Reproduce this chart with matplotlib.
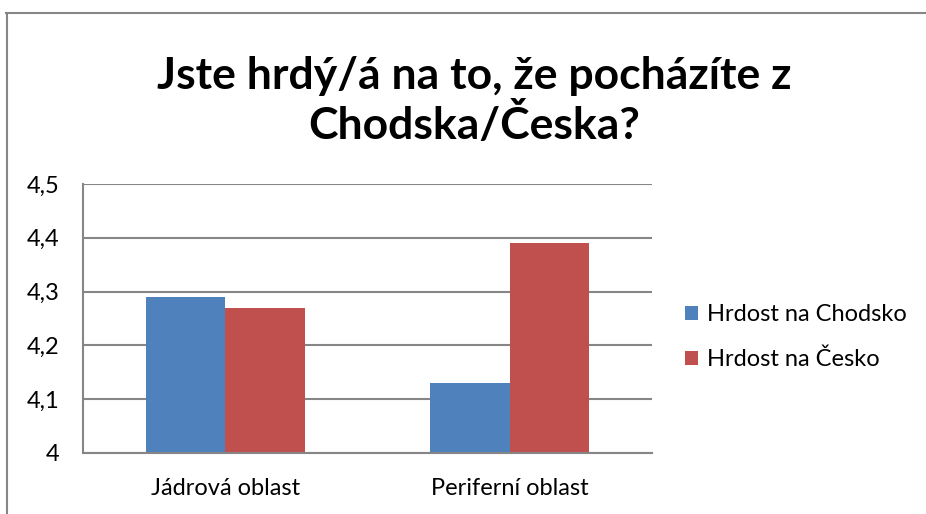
import numpy as np
import matplotlib
matplotlib.use('Agg')
import matplotlib.pyplot as plt
from matplotlib.lines import Line2D

plt.rcParams['font.family'] = ['Lato', 'DejaVu Sans']

# data
kategorie = ['Jádrová oblast', 'Periferní oblast']
serie = ['Hrdost na Chodsko', 'Hrdost na Česko']
chodsko = [4.29, 4.13]
cesko = [4.27, 4.39]
yticks = [4.0, 4.1, 4.2, 4.3, 4.4, 4.5]
ylabels = ['4', '4,1', '4,2', '4,3', '4,4', '4,5']
barvy = ['#4F81BD', '#C0504D']

fig = plt.figure(figsize=(9.26, 5.14), dpi=100)
ax = fig.add_axes([0.0896, 0.1187, 0.6145, 0.5233])

x = np.arange(len(kategorie))
w = 0.28
ax.bar(x - w / 2, chodsko, w, color=barvy[0], label=serie[0], zorder=3)
ax.bar(x + w / 2, cesko, w, color=barvy[1], label=serie[1], zorder=3)

ax.set_xlim(-0.5, 1.5)
ax.set_ylim(4.0, 4.5)
ax.set_yticks(yticks)
ax.set_yticklabels(ylabels, fontsize=17)
ax.set_xticks(x)
ax.set_xticklabels(kategorie, fontsize=17)
ax.tick_params(axis='y', length=0, pad=17)
ax.tick_params(axis='x', length=0, pad=18)
ax.grid(axis='y', color='#868686', linewidth=1.5, zorder=0)
for s in ['top', 'right']:
    ax.spines[s].set_visible(False)
for s in ['left', 'bottom']:
    ax.spines[s].set_color('#868686')
    ax.spines[s].set_linewidth(1.5)
    ax.spines[s].set_zorder(4)

fig.text(0.512, 0.803, 'Jste hrdý/á na to, že pocházíte z\nChodska/Česka?',
         ha='center', va='center', fontsize=32, fontweight='bold',
         linespacing=1.2)

ax.legend(loc='center left', bbox_to_anchor=(1.02, 0.43), frameon=False,
          fontsize=17, handlelength=0.55, handleheight=0.55, handletextpad=0.4,
          labelspacing=1.0)

# rámeček grafu
fig.add_artist(Line2D([0.0065, 1.0], [0.975, 0.975], color='#868686', lw=1.5))
fig.add_artist(Line2D([0.0075, 0.0075], [0.0, 0.975], color='#868686', lw=1.5))

fig.savefig('out.png', dpi=100)
